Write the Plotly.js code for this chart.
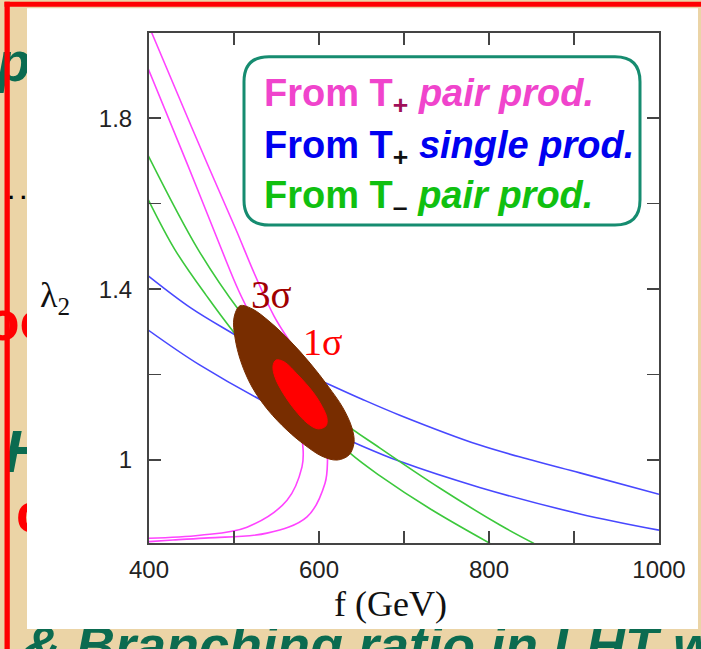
<!DOCTYPE html>
<html>
<head>
<meta charset="utf-8">
<script src="https://cdn.plot.ly/plotly-3.0.1.min.js"></script>
<style>html,body{margin:0;padding:0;background:#EBD4A6;}#chart{width:701px;height:649px;}</style>
</head>
<body>
<div id="chart"></div>
<script>
// ---- data (f in GeV, lambda_2) ----
const magOuterF = [403.2, 436.5, 470.6, 502.4, 524.7, 547.1, 572.9, 592.9, 603.5, 609.4, 610.0, 607.1, 585.9, 538.8, 470.0, 428.2, 399.2];
const magOuterL = [2.000, 1.843, 1.684, 1.539, 1.433, 1.337, 1.253, 1.173, 1.105, 1.035, 1.000, 0.946, 0.867, 0.829, 0.818, 0.813, 0.809];
const magInnerF = [399.2, 444.4, 485.5, 505.1, 528.2, 550.6, 568.2, 577.6, 581.2, 580.0, 562.4, 515.3, 460.0, 399.2];
const magInnerL = [1.915, 1.696, 1.492, 1.398, 1.304, 1.206, 1.122, 1.066, 1.028, 0.984, 0.906, 0.843, 0.824, 0.817];
const blueUpF = [399.2, 450, 507, 550, 601, 650, 695, 789, 850, 907, 1000];
const blueUpL = [1.431, 1.355, 1.286, 1.232, 1.187, 1.143, 1.105, 1.035, 1.000, 0.970, 0.920];
const blueLoF = [399.2, 460, 552, 640, 695, 789, 907, 1000];
const blueLoL = [1.304, 1.222, 1.120, 1.042, 0.997, 0.936, 0.874, 0.836];
const greenUpF = [399.2, 458.0, 507.1, 565.9, 624.7, 671.8, 742.4, 812.9, 852.9];
const greenUpL = [1.712, 1.492, 1.347, 1.206, 1.094, 1.028, 0.934, 0.848, 0.805];
const greenLoF = [399.2, 430.6, 467.1, 507.1, 571.8, 636.5, 671.8, 730.6, 801.2];
const greenLoL = [1.609, 1.492, 1.386, 1.281, 1.141, 1.016, 0.963, 0.886, 0.805];
// 3 sigma and 1 sigma regions (boundary points)
const sig3F = [507.1, 521.2, 542.4, 565.9, 589.4, 610.6, 628.2, 638.8, 641.2, 635.3, 621.2, 603.5, 583.5, 562.4, 540.0, 521.2, 508.2, 501.2, 500.0, 507.1];
const sig3L = [1.361, 1.354, 1.323, 1.279, 1.227, 1.173, 1.122, 1.075, 1.040, 1.012, 1.000, 1.009, 1.035, 1.070, 1.117, 1.171, 1.230, 1.286, 1.333, 1.361];
const sig1F = [549.4, 558.8, 575.3, 592.9, 603.5, 609.4, 608.2, 598.8, 585.9, 571.8, 557.6, 548.2, 545.9, 549.4];
const sig1L = [1.234, 1.230, 1.199, 1.159, 1.126, 1.098, 1.080, 1.073, 1.087, 1.117, 1.157, 1.194, 1.220, 1.234];
// ticks
const xTickVals = [400, 500, 600, 700, 800, 900, 1000];
const xTickText = ['400', '', '600', '', '800', '', '1000'];
const yTickVals = [1.0, 1.2, 1.4, 1.6, 1.8];
const yTickText = ['1', '', '1.4', '', '1.8'];
// texts
const legendLines = [
  {text: '<b>From T<sub><span style="color:#A0105A">+</span></sub> <i>pair prod.</i></b>', color: '#F044CC'},
  {text: '<b>From T<sub><span style="color:#111">+</span></sub> <i>single prod.</i></b>', color: '#0000F0'},
  {text: '<b>From T<sub><span style="color:#111">\u2013</span></sub> <i>pair prod.</i></b>', color: '#10C010'}
];

// ---- helpers: pixel -> paper ----
const W = 701, H = 649;
const px = v => v / W;
const py = v => 1 - v / H;

const curve = (x, y, color) => ({x, y, type: 'scatter', mode: 'lines', xaxis: 'x', yaxis: 'y',
  line: {color, width: 1.6, shape: 'spline', smoothing: 1}, hoverinfo: 'skip', showlegend: false});

const traces = [
  curve(blueUpF, blueUpL, '#4848FF'),
  curve(blueLoF, blueLoL, '#4848FF'),
  curve(greenUpF, greenUpL, '#3CC83C'),
  curve(greenLoF, greenLoL, '#3CC83C'),
  curve(magOuterF, magOuterL, '#FF44FF'),
  curve(magInnerF, magInnerL, '#FF44FF'),
  {x: sig3F, y: sig3L, type: 'scatter', mode: 'lines', fill: 'toself', fillcolor: '#782D00',
   line: {color: '#782D00', width: 1, shape: 'spline', smoothing: 1}, showlegend: false, hoverinfo: 'skip'},
  {x: sig1F, y: sig1L, type: 'scatter', mode: 'lines', fill: 'toself', fillcolor: '#FF0000',
   line: {color: '#FF0000', width: 1, shape: 'spline', smoothing: 1}, showlegend: false, hoverinfo: 'skip'},
  // background slide text fragments (clipped by their strip subplots)
  {x: [14], y: [67], text: ['<b><i>p</i></b>'], mode: 'text', type: 'scatter', xaxis: 'x2', yaxis: 'y2',
   textposition: 'middle center', textfont: {family: 'Liberation Sans', size: 55, color: '#0B6B50'}, showlegend: false, hoverinfo: 'skip'},
  {x: [8], y: [193.5], text: ['<b>. .</b>'], mode: 'text', type: 'scatter', xaxis: 'x2', yaxis: 'y2',
   textposition: 'middle right', textfont: {family: 'Liberation Sans', size: 22, color: '#000'}, showlegend: false, hoverinfo: 'skip'},
  {x: [-14], y: [326], text: ['<b>oo</b>'], mode: 'text', type: 'scatter', xaxis: 'x2', yaxis: 'y2',
   textposition: 'middle right', textfont: {family: 'Liberation Sans', size: 55, color: '#FF0000'}, showlegend: false, hoverinfo: 'skip'},
  {x: [4], y: [457], text: ['<b><i>H</i></b>'], mode: 'text', type: 'scatter', xaxis: 'x2', yaxis: 'y2',
   textposition: 'middle right', textfont: {family: 'Liberation Sans', size: 60, color: '#0B6B50'}, showlegend: false, hoverinfo: 'skip'},
  {x: [16], y: [518], text: ['<b>c</b>'], mode: 'text', type: 'scatter', xaxis: 'x2', yaxis: 'y2',
   textposition: 'middle right', textfont: {family: 'Liberation Sans', size: 55, color: '#FF0000'}, showlegend: false, hoverinfo: 'skip'},
  {x: [22], y: [650], text: ['<b><i>&amp; Branching ratio in LHT w</i></b>'], mode: 'text', type: 'scatter', xaxis: 'x3', yaxis: 'y3',
   textposition: 'middle right', textfont: {family: 'Liberation Sans', size: 54, color: '#0B6B50'}, showlegend: false, hoverinfo: 'skip'}
];

// legend rounded box
const bx0 = px(244), bx1 = px(640), by1 = py(56.7), by0 = py(225);
const rx = 25 / W, ry = 25 / H;
const boxPath = `M ${bx0+rx},${by1} L ${bx1-rx},${by1} Q ${bx1},${by1} ${bx1},${by1-ry} L ${bx1},${by0+ry} Q ${bx1},${by0} ${bx1-rx},${by0} L ${bx0+rx},${by0} Q ${bx0},${by0} ${bx0},${by0+ry} L ${bx0},${by1-ry} Q ${bx0},${by1} ${bx0+rx},${by1} Z`;

const shapes = [
  {type: 'rect', xref: 'paper', yref: 'paper', x0: px(27), x1: px(698), y0: py(629), y1: py(8.3), fillcolor: '#FFFFFF', line: {width: 0}, layer: 'below'},
  {type: 'path', xref: 'paper', yref: 'paper', path: boxPath, fillcolor: '#FFFFFF', line: {color: '#168C70', width: 3}, layer: 'below'},
  {type: 'rect', xref: 'paper', yref: 'paper', x0: px(4.5), x1: 1, y0: py(6.7), y1: py(1.7), fillcolor: '#FF0000', line: {width: 0}, layer: 'above'},
  {type: 'rect', xref: 'paper', yref: 'paper', x0: px(4.5), x1: px(9.8), y0: 0, y1: py(1.7), fillcolor: '#FF0000', line: {width: 0}, layer: 'above'}
];

const annotations = [
  {text: 'f (GeV)', xref: 'paper', yref: 'paper', x: px(390), y: py(604), xanchor: 'center', yanchor: 'middle', showarrow: false,
   font: {family: 'Liberation Serif', size: 36, color: '#111'}},
  {text: '\u03bb<sub>2</sub>', xref: 'paper', yref: 'paper', x: px(55), y: py(297), xanchor: 'center', yanchor: 'middle', showarrow: false,
   font: {family: 'Liberation Serif', size: 36, color: '#111'}},
  {text: '3\u03c3', xref: 'paper', yref: 'paper', x: px(271.5), y: py(294), xanchor: 'center', yanchor: 'middle', showarrow: false,
   font: {family: 'Liberation Serif', size: 39, color: '#A00000'}},
  {text: '1\u03c3', xref: 'paper', yref: 'paper', x: px(322.5), y: py(342), xanchor: 'center', yanchor: 'middle', showarrow: false,
   font: {family: 'Liberation Serif', size: 38, color: '#FF0000'}}
];
const legendY = [96, 148, 198];
legendLines.forEach((l, i) => annotations.push({text: l.text, xref: 'paper', yref: 'paper', x: px(262), y: py(legendY[i]),
  xanchor: 'left', yanchor: 'middle', showarrow: false, font: {family: 'Liberation Sans', size: 38, color: l.color}}));

const axisCommon = {ticks: 'inside', ticklen: 12, tickwidth: 1.5, tickcolor: '#444', showline: true, linecolor: '#444', linewidth: 2,
  mirror: 'ticks', showgrid: false, zeroline: false, tickfont: {family: 'Liberation Sans', size: 24, color: '#222'}, fixedrange: true};
const hidden = {visible: false, fixedrange: true, showgrid: false, zeroline: false};

const layout = {
  width: W, height: H,
  margin: {l: 0, r: 0, t: 0, b: 0, pad: 0},
  paper_bgcolor: '#EBD4A6', plot_bgcolor: 'rgba(0,0,0,0)',
  showlegend: false,
  xaxis: Object.assign({}, axisCommon, {domain: [px(149), px(659)], range: [400, 1000], tickmode: 'array', tickvals: xTickVals, ticktext: xTickText, anchor: 'y', ticklabelstandoff: 4}),
  yaxis: Object.assign({}, axisCommon, {domain: [py(543.4), py(32.7)], range: [0.805, 2.0], tickmode: 'array', tickvals: yTickVals, ticktext: yTickText, anchor: 'x', ticklabelstandoff: 10}),
  xaxis2: Object.assign({}, hidden, {domain: [0, px(27)], range: [0, 27], anchor: 'y2'}),
  yaxis2: Object.assign({}, hidden, {domain: [0, 1], range: [649, 0], anchor: 'x2'}),
  xaxis3: Object.assign({}, hidden, {domain: [0, 1], range: [0, 701], anchor: 'y3'}),
  yaxis3: Object.assign({}, hidden, {domain: [0, 20 / H], range: [649, 629], anchor: 'x3'}),
  shapes, annotations
};

Plotly.newPlot('chart', traces, layout, {staticPlot: true, displayModeBar: false});
</script>
</body>
</html>
